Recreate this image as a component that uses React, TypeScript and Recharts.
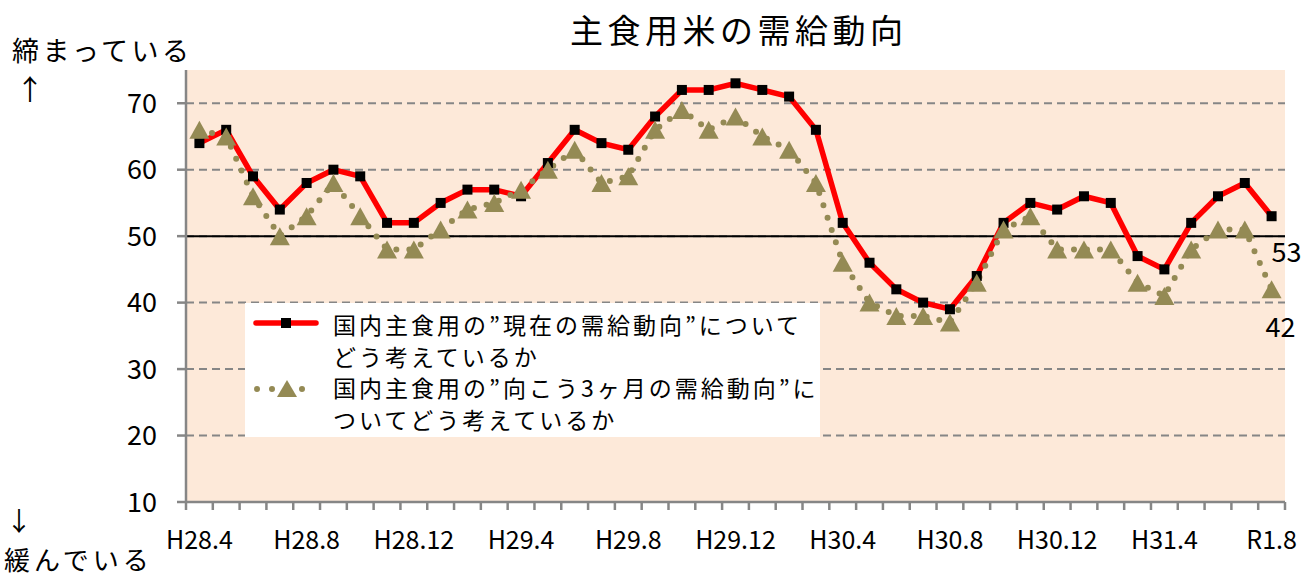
import {
  LineChart,
  Line,
  XAxis,
  YAxis,
  CartesianGrid,
  ReferenceLine,
  Legend,
  LabelList,
} from "recharts";

const MONTHS = [
  "H28.4", "H28.5", "H28.6", "H28.7", "H28.8", "H28.9", "H28.10", "H28.11", "H28.12",
  "H29.1", "H29.2", "H29.3", "H29.4", "H29.5", "H29.6", "H29.7", "H29.8", "H29.9", "H29.10", "H29.11", "H29.12",
  "H30.1", "H30.2", "H30.3", "H30.4", "H30.5", "H30.6", "H30.7", "H30.8", "H30.9", "H30.10", "H30.11", "H30.12",
  "H31.1", "H31.2", "H31.3", "H31.4", "R1.5", "R1.6", "R1.7", "R1.8",
];

const TICK_LABELS = [
  "H28.4", "H28.8", "H28.12", "H29.4", "H29.8", "H29.12",
  "H30.4", "H30.8", "H30.12", "H31.4", "R1.8",
];

// 現在の需給動向
const CURRENT = [
  64, 66, 59, 54, 58, 60, 59, 52, 52, 55, 57, 57, 56, 61, 66, 64, 63, 68, 72, 72, 73,
  72, 71, 66, 52, 46, 42, 40, 39, 44, 52, 55, 54, 56, 55, 47, 45, 52, 56, 58, 53,
];

// 向こう3ヶ月の需給動向
const OUTLOOK = [
  66, 65, 56, 50, 53, 58, 53, 48, 48, 51, 54, 55, 57, 60, 63, 58, 59, 66, 69, 66, 68,
  65, 63, 58, 46, 40, 38, 38, 37, 43, 51, 53, 48, 48, 48, 43, 41, 48, 51, 51, 42,
];

const Y_TICKS = [10, 20, 30, 40, 50, 60, 70];

const data = MONTHS.map((month, i) => ({
  month,
  current: CURRENT[i],
  outlook: OUTLOOK[i],
}));

const FONT = "'Noto Sans CJK JP', 'Noto Sans', sans-serif";
const W = 1306;
const H = 579;
const M = { top: 70, right: 21, bottom: 37, left: 126 };
const Y_AXIS_W = 60;
const X_AXIS_H = 40;
const PLOT_W = W - M.left - Y_AXIS_W - M.right;
const STEP = PLOT_W / MONTHS.length;
const AXIS_Y = H - M.bottom - X_AXIS_H;
const AXIS_GRAY = "#868686";
const RED = "#FF0000";
const OLIVE = "#948A54";

const XTick = (props: any) => {
  const { x, payload, index } = props;
  const half = STEP / 2;
  const last = index === MONTHS.length - 1;
  return (
    <g>
      <line x1={x - half} x2={x - half} y1={AXIS_Y} y2={AXIS_Y + 8} stroke={AXIS_GRAY} strokeWidth={2.5} />
      {last && (
        <line x1={x + half} x2={x + half} y1={AXIS_Y} y2={AXIS_Y + 8} stroke={AXIS_GRAY} strokeWidth={2.5} />
      )}
      {TICK_LABELS.includes(payload.value) && (
        <text
          x={x}
          y={AXIS_Y + 36}
          textAnchor="middle"
          dominantBaseline="central"
          fontSize={25}
          fontFamily={FONT}
          fill="#000"
        >
          {payload.value}
        </text>
      )}
    </g>
  );
};

const SquareDot = (props: any) => {
  const { cx, cy, index } = props;
  if (cx == null || cy == null) return null;
  return <rect key={`sq-${index}`} x={cx - 5} y={cy - 5} width={10} height={10} fill="#000" />;
};

const TriangleDot = (props: any) => {
  const { cx, cy, index } = props;
  if (cx == null || cy == null) return null;
  return (
    <polygon
      key={`tri-${index}`}
      points={`${cx},${cy - 9} ${cx - 10},${cy + 9} ${cx + 10},${cy + 9}`}
      fill={OLIVE}
    />
  );
};

const endLabel = (dy: number, dx: number) => (props: any) => {
  const { x, y, index, value } = props;
  if (index !== MONTHS.length - 1) return null;
  return (
    <text
      x={x + dx}
      y={y + dy}
      dominantBaseline="central"
      fontSize={27}
      fontFamily={FONT}
      fill="#000"
    >
      {value}
    </text>
  );
};

const LegendBox = () => {
  const text: React.CSSProperties = {
    position: "absolute",
    left: 88,
    fontSize: 23,
    letterSpacing: 3,
    lineHeight: "32px",
    fontFamily: FONT,
    color: "#000",
    whiteSpace: "nowrap",
    textAlign: "left",
  };
  return (
    <div style={{ position: "relative", width: 575, height: 134, background: "#fff" }}>
      <svg width={70} height={134} style={{ position: "absolute", left: 8, top: 0 }}>
        <line x1={3} x2={63} y1={20} y2={20} stroke={RED} strokeWidth={5.5} strokeLinecap="round" />
        <rect x={28} y={15} width={10} height={10} fill="#000" />
        <line
          x1={4}
          x2={64}
          y1={86}
          y2={86}
          stroke={OLIVE}
          strokeWidth={6}
          strokeDasharray="0 15"
          strokeLinecap="round"
        />
        <polygon points="34,77 24,94 44,94" fill={OLIVE} />
      </svg>
      <div style={{ ...text, top: 5 }}>
        国内主食用の”現在の需給動向”について
        <br />
        どう考えているか
      </div>
      <div style={{ ...text, top: 68 }}>
        国内主食用の”向こう3ヶ月の需給動向”に
        <br />
        ついてどう考えているか
      </div>
    </div>
  );
};

export default function App() {
  const label: React.CSSProperties = {
    position: "absolute",
    fontFamily: FONT,
    color: "#000",
    lineHeight: 1,
    whiteSpace: "nowrap",
  };
  return (
    <div style={{ position: "absolute", left: 0, top: 0, width: W, height: H, background: "#fff" }}>
      <div style={{ ...label, left: 570, top: 13, fontSize: 33, letterSpacing: 4.5 }}>主食用米の需給動向</div>
      <div style={{ ...label, left: 12, top: 36, fontSize: 27, letterSpacing: 3.5 }}>締まっている</div>
      <div style={{ ...label, left: 16, top: 74, fontSize: 28 }}>↑</div>
      <div style={{ ...label, left: 6, top: 507, fontSize: 26 }}>↓</div>
      <div style={{ ...label, left: 4, top: 546, fontSize: 26, letterSpacing: 4 }}>緩んでいる</div>

      <LineChart width={W} height={H} data={data} margin={M}>
        <CartesianGrid
          vertical={false}
          horizontalValues={Y_TICKS}
          stroke={AXIS_GRAY}
          strokeWidth={2}
          strokeDasharray="8 5"
          fill="#FDE9D9"
        />
        <XAxis
          dataKey="month"
          interval={0}
          height={X_AXIS_H}
          tick={<XTick />}
          tickLine={false}
          axisLine={{ stroke: AXIS_GRAY, strokeWidth: 2.5 }}
          padding={{ left: STEP / 2, right: STEP / 2 }}
        />
        <YAxis
          width={Y_AXIS_W}
          domain={[10, 75]}
          ticks={Y_TICKS}
          interval={0}
          tickSize={9}
          tickMargin={20}
          tick={{ fontSize: 27, fill: "#000", fontFamily: FONT }}
          tickLine={{ stroke: AXIS_GRAY, strokeWidth: 2.5 }}
          axisLine={{ stroke: AXIS_GRAY, strokeWidth: 2.5 }}
        />
        <ReferenceLine y={50} stroke="#000" strokeWidth={2} />
        <Line
          dataKey="current"
          type="linear"
          stroke={RED}
          strokeWidth={5.5}
          dot={SquareDot}
          activeDot={false}
          isAnimationActive={false}
        >
          <LabelList dataKey="current" content={endLabel(34, 0)} />
        </Line>
        <Line
          dataKey="outlook"
          type="linear"
          stroke={OLIVE}
          strokeWidth={6}
          strokeDasharray="0 13"
          strokeLinecap="round"
          dot={TriangleDot}
          activeDot={false}
          isAnimationActive={false}
        >
          <LabelList dataKey="outlook" content={endLabel(36, -6)} />
        </Line>
        <Legend
          layout="vertical"
          align="center"
          verticalAlign="middle"
          content={<LegendBox />}
          wrapperStyle={{ left: 245, top: 303, width: 575, height: 134 }}
        />
      </LineChart>
    </div>
  );
}
